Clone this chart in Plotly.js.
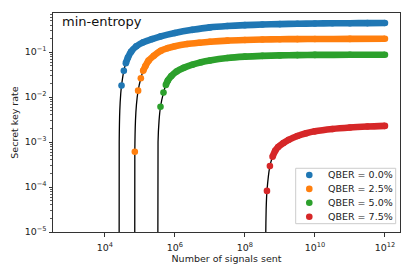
<!DOCTYPE html>
<html>
<head>
<meta charset="utf-8">
<script src="https://cdn.plot.ly/plotly-3.0.1.min.js"></script>
<style>html,body{margin:0;padding:0;background:#fff;}#chart{width:415px;height:276px;}</style>
</head>
<body>
<div id="chart"></div>
<script>
// ---- data ----
const seriesNames = ['QBER = 0.0%', 'QBER = 2.5%', 'QBER = 5.0%', 'QBER = 7.5%'];

// points near the cutoff (black curve only)
const blueCutN = [2.55e4, 2.575e4, 2.675e4, 2.85e4];
const blueCutR = [1e-9, 1e-3, 5e-3, 0.012];
const orangeCutN = [7.11e4, 7.5e4, 8.0e4];
const orangeCutR = [1e-9, 2.96e-3, 6.8e-3];
const greenCutN = [3.2e5, 3.31e5, 3.54e5];
const greenCutR = [1e-9, 1e-3, 3e-3];
const redCutN = [3.91e8, 3.95e8, 4.05e8];
const redCutR = [1e-9, 9e-6, 3.2e-5];

// sampled key rates (markers)
const blueN = [3.0e4, 3.49e4, 3.98e4, 4.57e4, 5.62e4, 7.94e4, 1.26e5, 2.24e5, 3.98e5, 1e6, 3.16e6, 1e7, 3.16e7, 1e8, 3.16e8, 1e9, 3.16e9, 1e10, 3.16e10, 1e11, 3.16e11, 1e12];
const blueR = [0.018, 0.0383, 0.0569, 0.0759, 0.102, 0.135, 0.166, 0.195, 0.224, 0.266, 0.313, 0.355, 0.380, 0.398, 0.410, 0.420, 0.428, 0.434, 0.4375, 0.440, 0.4416, 0.4426];

const orangeN = [7.19e4, 8.93e4, 1.069e5, 1.242e5, 1.445e5, 1.778e5, 2.51e5, 3.98e5, 6.31e5, 1e6, 2.24e6, 5.01e6, 1e7, 3.16e7, 1e8, 3.16e8, 1e9, 3.16e9, 1e10, 1e11, 1e12];
const orangeR = [6.1e-4, 0.0139, 0.0263, 0.0383, 0.049, 0.0646, 0.0832, 0.1072, 0.123, 0.135, 0.151, 0.162, 0.170, 0.180, 0.186, 0.1905, 0.193, 0.195, 0.196, 0.197, 0.198];

const greenN = [3.89e5, 4.74e5, 5.53e5, 6.31e5, 7.94e5, 1.12e6, 1.78e6, 3.16e6, 5.62e6, 1e7, 3.16e7, 1e8, 3.16e8, 1e9, 3.16e9, 1e10, 1e11, 1e12];
const greenR = [0.0061, 0.0126, 0.0186, 0.0234, 0.0295, 0.0372, 0.0447, 0.0525, 0.0596, 0.0653, 0.0741, 0.0794, 0.0826, 0.0845, 0.0859, 0.0867, 0.0873, 0.0875];

const redN = [4.27e8, 5.18e8, 6.17e8, 7.35e8, 8.91e8, 1.26e9, 1.78e9, 3.16e9, 5.62e9, 1e10, 3.16e10, 1e11, 3.16e11, 1e12];
const redR = [8.2e-5, 2.92e-4, 4.7e-4, 6.4e-4, 7.76e-4, 9.55e-4, 1.12e-3, 1.365e-3, 1.567e-3, 1.73e-3, 1.95e-3, 2.10e-3, 2.21e-3, 2.29e-3];

// tick labels
const xTickVals = [1e4, 1e6, 1e8, 1e10, 1e12];
const xTickText = ['10<sup>4</sup>', '10<sup>6</sup>', '10<sup>8</sup>', '10<sup>10</sup>', '10<sup>12</sup>'];
const yTickVals = [1e-5, 1e-4, 1e-3, 1e-2, 1e-1];
const yTickText = ['10<sup>−5</sup>', '10<sup>−4</sup>', '10<sup>−3</sup>', '10<sup>−2</sup>', '10<sup>−1</sup>'];
const yMinorVals = [2e-5,3e-5,4e-5,5e-5,6e-5,7e-5,8e-5,9e-5,
                    2e-4,3e-4,4e-4,5e-4,6e-4,7e-4,8e-4,9e-4,
                    2e-3,3e-3,4e-3,5e-3,6e-3,7e-3,8e-3,9e-3,
                    2e-2,3e-2,4e-2,5e-2,6e-2,7e-2,8e-2,9e-2,
                    2e-1,3e-1,4e-1,5e-1,6e-1,7e-1];

// ---- style ----
const colors = ['#1f77b4', '#ff7f0e', '#2ca02c', '#d62728'];
const bandStart = [2, 3, 2, 2];
const MS = 6.6;
const FONT = 'DejaVu Sans';

const series = [
  {n: blueN, r: blueR, cn: blueCutN, cr: blueCutR},
  {n: orangeN, r: orangeR, cn: orangeCutN, cr: orangeCutR},
  {n: greenN, r: greenR, cn: greenCutN, cr: greenCutR},
  {n: redN, r: redR, cn: redCutN, cr: redCutR}
];

const traces = [];
// black curves
series.forEach(s => {
  const pts = s.cn.map((v, i) => [v, s.cr[i]]).concat(s.n.map((v, i) => [v, s.r[i]]));
  pts.sort((a, b) => a[0] - b[0]);
  traces.push({x: pts.map(p => p[0]), y: pts.map(p => p[1]), mode: 'lines', type: 'scatter',
    line: {color: '#000', width: 1.3, shape: 'spline', smoothing: 0.6}, showlegend: false, hoverinfo: 'skip'});
});
// dense bands
series.forEach((s, k) => {
  traces.push({x: s.n.slice(bandStart[k]), y: s.r.slice(bandStart[k]), mode: 'lines', type: 'scatter',
    line: {color: colors[k], width: MS, shape: 'spline', smoothing: 0.8}, showlegend: false, hoverinfo: 'skip'});
});
// markers
series.forEach((s, k) => {
  traces.push({x: s.n, y: s.r, mode: 'markers', type: 'scatter', name: seriesNames[k], showlegend: false,
    marker: {color: colors[k], size: MS, line: {width: 0}}});
});

// ---- matplotlib-like legend (box, symbols, labels) ----
const legBox = {x0: 0.6994, x1: 0.9876, y0: 0.038, y1: 0.2909};
const legSymX = 0.7386, legTextX = 0.788;
const legRowY = [0.2603, 0.1968, 0.1333, 0.0698];
const shapes = [{
  type: 'rect', xref: 'paper', yref: 'paper', layer: 'above',
  x0: legBox.x0, x1: legBox.x1, y0: legBox.y0, y1: legBox.y1,
  fillcolor: 'rgba(255,255,255,0.85)', line: {color: '#cccccc', width: 1}
}];
const annotations = [{
  text: 'min-entropy', xref: 'paper', yref: 'paper', x: 0.02, y: 0.962,
  xanchor: 'left', yanchor: 'middle', showarrow: false,
  font: {family: FONT, size: 13, color: '#111'}
}];
seriesNames.forEach((nm, k) => {
  shapes.push({type: 'circle', xref: 'paper', yref: 'paper', layer: 'above',
    xsizemode: 'pixel', ysizemode: 'pixel', xanchor: legSymX, yanchor: legRowY[k],
    x0: -MS / 2, x1: MS / 2, y0: -MS / 2, y1: MS / 2,
    fillcolor: colors[k], line: {width: 0}});
  annotations.push({text: nm, xref: 'paper', yref: 'paper', x: legTextX, y: legRowY[k],
    xanchor: 'left', yanchor: 'middle', showarrow: false,
    font: {family: FONT, size: 9.5, color: '#222'}});
});

const axisCommon = {
  type: 'log', showgrid: false, zeroline: false, showline: true, linecolor: '#333', linewidth: 1,
  mirror: true, ticks: 'outside', ticklen: 3.5, tickwidth: 1, tickcolor: '#333',
  tickfont: {family: FONT, size: 9.5, color: '#222'}
};

const layout = {
  width: 415, height: 276,
  margin: {l: 53, r: 15, t: 13, b: 44, pad: 0},
  paper_bgcolor: '#fff', plot_bgcolor: '#fff',
  font: {family: FONT, size: 9.5, color: '#222'},
  xaxis: Object.assign({}, axisCommon, {
    range: [2.52, 12.43], tickmode: 'array', tickvals: xTickVals, ticktext: xTickText,
    ticklabelstandoff: 3,
    title: {text: 'Number of signals sent', font: {family: FONT, size: 9.5, color: '#222'}, standoff: 1}
  }),
  yaxis: Object.assign({}, axisCommon, {
    range: [-5, -0.13], tickmode: 'array', tickvals: yTickVals, ticktext: yTickText,
    minor: {tickmode: 'array', tickvals: yMinorVals, ticks: 'outside', ticklen: 2, tickwidth: 0.8, tickcolor: '#333', showgrid: false},
    title: {text: 'Secret key rate', font: {family: FONT, size: 9.5, color: '#222'}, standoff: 4}
  }),
  shapes: shapes,
  annotations: annotations,
  showlegend: false
};

Plotly.newPlot('chart', traces, layout, {staticPlot: true, displayModeBar: false});
</script>
</body>
</html>
